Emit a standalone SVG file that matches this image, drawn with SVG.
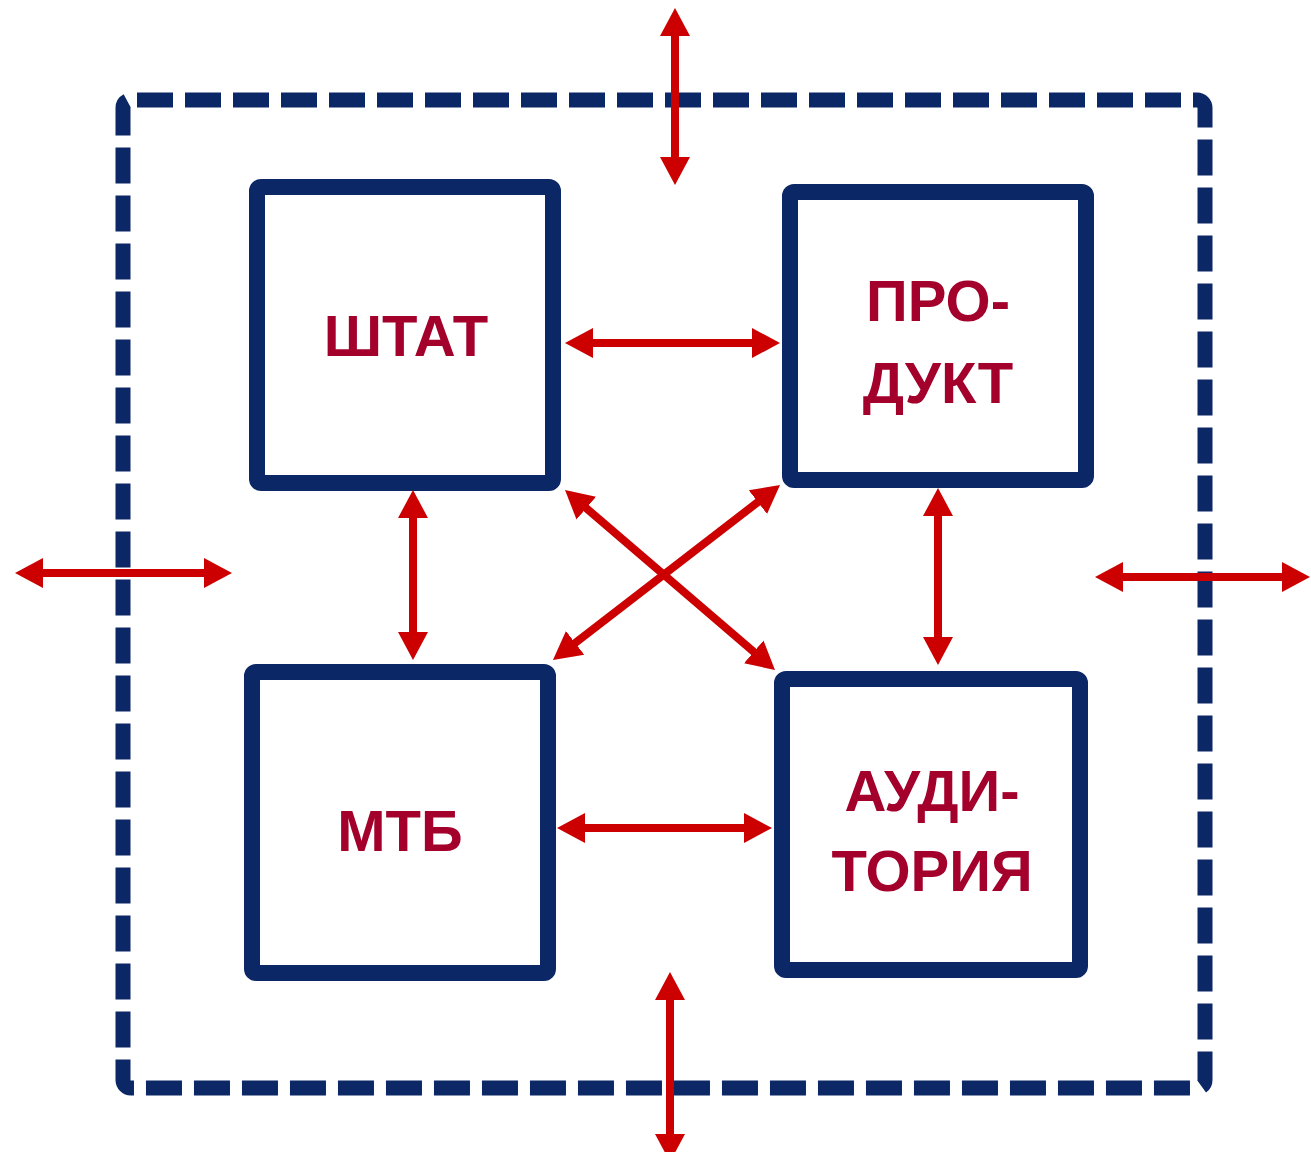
<svg xmlns="http://www.w3.org/2000/svg" width="1311" height="1152" viewBox="0 0 1311 1152">
  <style>
    .box { fill: #ffffff; stroke: #0c2766; stroke-width: 16; stroke-linejoin: round; }
    .frame { fill: none; stroke: #0c2766; stroke-width: 15; stroke-dasharray: 36 12; stroke-dashoffset: -6; }
    .lbl { font-family: "Liberation Sans", Arial, sans-serif; font-weight: bold; font-size: 58px; fill: #a3002c; text-anchor: middle; }
    .arr { stroke: #cc0000; stroke-width: 8; fill: none; marker-start: url(#head); marker-end: url(#head); }
  </style>
  <defs>
    <marker id="head" markerUnits="userSpaceOnUse" markerWidth="30" markerHeight="32" refX="8" refY="16" orient="auto-start-reverse" viewBox="0 0 30 32">
      <path d="M0,1 L28,16 L0,31 z" fill="#cc0000"/>
    </marker>
  </defs>
  <rect width="1311" height="1152" fill="#ffffff"/>
  <g id="frame">
    <rect class="frame" x="123" y="100" width="1082" height="988" rx="8"/>
  </g>
  <g id="node-shtat">
    <rect class="box" x="257" y="187" width="296" height="296" rx="4"/>
    <text class="lbl" x="406" y="356">ШТАТ</text>
  </g>
  <g id="node-produkt">
    <rect class="box" x="790" y="192" width="296" height="288" rx="4"/>
    <text class="lbl" x="938" y="321">ПРО-</text>
    <text class="lbl" x="938" y="403">ДУКТ</text>
  </g>
  <g id="node-mtb">
    <rect class="box" x="252" y="672" width="296" height="301" rx="4"/>
    <text class="lbl" x="400" y="851">МТБ</text>
  </g>
  <g id="node-auditoriya">
    <rect class="box" x="782" y="679" width="298" height="291" rx="4"/>
    <text class="lbl" x="932" y="811">АУДИ-</text>
    <text class="lbl" x="932" y="891">ТОРИЯ</text>
  </g>
  <g id="connectors">
    <line class="arr" x1="675" y1="28" x2="675" y2="165"/>
    <line class="arr" x1="670" y1="992" x2="670" y2="1142"/>
    <line class="arr" x1="35" y1="573" x2="212" y2="573"/>
    <line class="arr" x1="1115" y1="577" x2="1290" y2="577"/>
    <line class="arr" x1="585" y1="343" x2="760" y2="343"/>
    <line class="arr" x1="413" y1="510" x2="413" y2="640"/>
    <line class="arr" x1="938" y1="508" x2="938" y2="645"/>
    <line class="arr" x1="577" y1="828" x2="752" y2="828"/>
    <line class="arr" x1="580.2" y1="503" x2="759.8" y2="657"/>
    <line class="arr" x1="764.2" y1="497.2" x2="568.8" y2="647.8"/>
  </g>
</svg>
